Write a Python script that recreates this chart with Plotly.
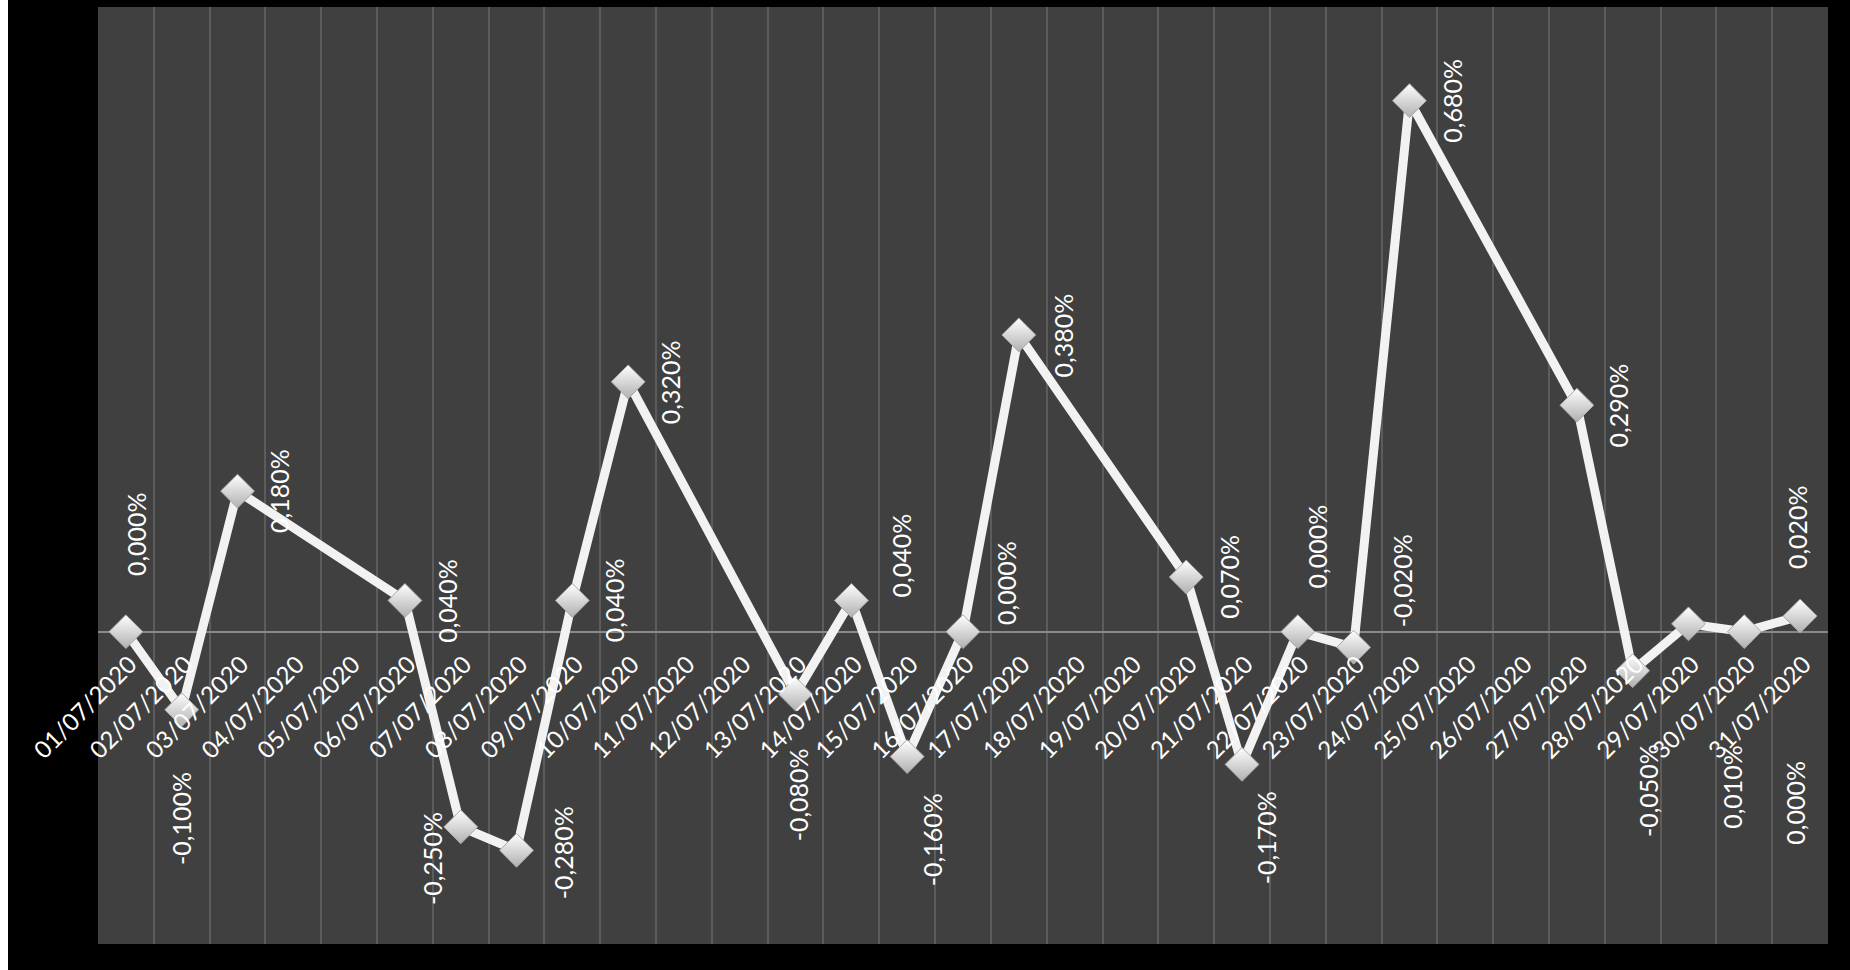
import plotly.graph_objects as go

# ---- data ----
categories = [f"{d:02d}/07/2020" for d in range(1, 32)]
point_dates = ["01/07/2020", "02/07/2020", "03/07/2020", "06/07/2020", "07/07/2020",
               "08/07/2020", "09/07/2020", "10/07/2020", "13/07/2020", "14/07/2020",
               "15/07/2020", "16/07/2020", "17/07/2020", "20/07/2020", "21/07/2020",
               "22/07/2020", "23/07/2020", "24/07/2020", "27/07/2020", "28/07/2020",
               "29/07/2020", "30/07/2020", "31/07/2020"]
values = [0.00, -0.10, 0.18, 0.04, -0.25, -0.28, 0.04, 0.32, -0.08, 0.04,
          -0.16, 0.00, 0.38, 0.07, -0.17, 0.00, -0.02, 0.68, 0.29, -0.05,
          0.01, 0.00, 0.02]

# label placement offsets (pixels, relative to the point)
label_dx = [8, 0, 35, 36, -25, 39, 36, 35, 2, 42, 21, 37, 37, 36, 20, 16, 41, 36, 35, 13, 37, 43, -3]
label_dy = [-83, 92, 0, 0, 27, 2, 0, 0, 85, -38, 70, -41, 0, 0, 62, -72, -56, 0, 0, 102, 138, 145, -75]

FONT = "Lato"
W, H = 1842, 970
ML, MR, MT, MB = 90, 22, 7, 26

def fmt(v):
    return f"{v:.3f}%".replace(".", ",")

fig = go.Figure()
fig.add_trace(go.Scatter(
    x=point_dates, y=values, mode="lines+markers",
    line=dict(color="#f2f2f2", width=9),
    marker=dict(symbol="diamond", size=26, color="#ffffff",
                gradient=dict(type="vertical", color="#b0b0b0"),
                line=dict(color="#a8a8a8", width=1)),
    hoverinfo="skip", showlegend=False,
))

sc = 1.18
annotations = []
for d, v, dx, dy in zip(point_dates, values, label_dx, label_dy):
    annotations.append(dict(
        x=d, y=v, xref="x", yref="y", text=fmt(v), showarrow=False,
        textangle=-90, xanchor="center", yanchor="middle",
        xshift=dx * sc, yshift=-dy * sc,
        font=dict(family=FONT, size=25, color="#ffffff"),
    ))

fig.update_layout(
    width=W, height=H,
    margin=dict(l=ML, r=MR, t=MT, b=MB, autoexpand=False),
    paper_bgcolor="#000000", plot_bgcolor="#404040",
    annotations=annotations,
    xaxis=dict(
        type="category", categoryorder="array", categoryarray=categories,
        tickmode="array", tickvals=categories, ticktext=categories,
        range=[-0.5, len(categories) - 0.5],
        tickangle=-45, tickfont=dict(family=FONT, size=24, color="#ffffff"),
        ticklabelstandoff=13, ticklabelshift=4,
        showgrid=True, gridcolor="#5c5c5c", gridwidth=2, tickson="boundaries",
        ticks="", showline=False, zeroline=False,
        anchor="free", position=1 / 3,
    ),
    yaxis=dict(
        range=[-0.4, 0.8], showgrid=False, showticklabels=False,
        zeroline=True, zerolinecolor="#8a8a8a", zerolinewidth=2,
        showline=False, ticks="",
    ),
)

fig.write_html("out.html",
               post_script="document.body.style.margin='0 0 0 8px';")
